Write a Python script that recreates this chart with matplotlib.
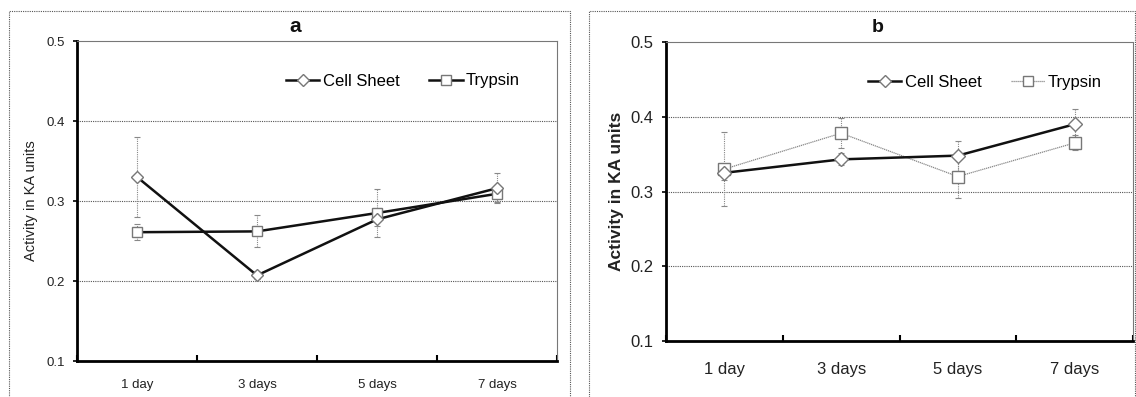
import matplotlib
matplotlib.use("Agg")
import matplotlib.pyplot as plt
from matplotlib.lines import Line2D
from matplotlib.patches import Rectangle

plt.rcParams['font.family'] = ['Liberation Sans', 'DejaVu Sans']

categories = ["1 day", "3 days", "5 days", "7 days"]

# Panel a
a_cell = [0.330, 0.207, 0.277, 0.316]
a_cell_err = [0.050, 0.005, 0.008, 0.019]
a_tryp = [0.261, 0.262, 0.285, 0.309]
a_tryp_err = [0.010, 0.020, 0.030, 0.010]

# Panel b
b_cell = [0.325, 0.343, 0.348, 0.390]
b_cell_err = [0.010, 0.008, 0.020, 0.020]
b_tryp = [0.330, 0.378, 0.320, 0.365]
b_tryp_err = [0.050, 0.020, 0.029, 0.010]

y_ticks = [0.1, 0.2, 0.3, 0.4, 0.5]

W, H = 1136, 397
fig = plt.figure(figsize=(W / 100, H / 100), dpi=100)

# outer dotted frames
for (x0, x1) in [(9, 570), (589, 1135)]:
    fig.patches.append(Rectangle((x0 / W, -0.05), (x1 - x0) / W, 1.05 - 11 / H,
                                 transform=fig.transFigure, fill=False,
                                 edgecolor='#555555', linestyle=(0, (1, 1)), linewidth=0.8))

def style_axes(ax, tick_fs, xpad, ylab_fs, ylab_weight, ylab_x):
    x = list(range(len(categories)))
    ax.set_xlim(-0.5, len(categories) - 0.5)
    ax.set_ylim(0.1, 0.5)
    ax.set_yticks(y_ticks)
    ax.set_yticklabels([f"{v:.1f}" for v in y_ticks], fontsize=tick_fs, color='#222222')
    ax.set_xticks([i - 0.5 for i in range(len(categories) + 1)])
    ax.set_xticklabels([])
    ax.set_xticks(x, minor=True)
    ax.set_xticklabels(categories, minor=True, fontsize=tick_fs, color='#222222')
    ax.tick_params(axis='x', which='minor', length=0, pad=xpad)
    ax.tick_params(axis='x', which='major', length=4, width=1.5, direction='in', color='black')
    ax.tick_params(axis='y', length=3, width=1.2, direction='out', color='black', pad=6)
    for v in [0.2, 0.3, 0.4]:
        ax.axhline(v, color='#555555', linewidth=0.8, linestyle=(0, (1, 1)), zorder=0)
    ax.spines['left'].set_linewidth(2.0)
    ax.spines['bottom'].set_linewidth(2.0)
    for s in ['top', 'right']:
        ax.spines[s].set_color('#777777')
        ax.spines[s].set_linestyle((0, (1, 1)))
        ax.spines[s].set_linewidth(0.8)
    ax.set_ylabel("Activity in KA units", fontsize=ylab_fs, fontweight=ylab_weight, color='#222222')
    ax.yaxis.set_label_coords(ylab_x, 0.5)

def plot_series(ax, y, err, marker, ms, lw, lcolor, ls, z):
    x = list(range(len(y)))
    eb = ax.errorbar(x, y, yerr=err, fmt='none', ecolor='#888888', elinewidth=0.8,
                     capsize=2.5, capthick=0.8, zorder=z - 1)
    for c in eb[2]:
        c.set_linestyle((0, (1, 1)))
    ax.plot(x, y, color=lcolor, linewidth=lw, linestyle=ls, zorder=z)
    ax.plot(x, y, linestyle='none', marker=marker, markersize=ms, markerfacecolor='white',
            markeredgecolor='#777777', markeredgewidth=1.0, zorder=z + 1)

# Panel a
axa = fig.add_axes([77 / W, 1 - 361 / H, 480 / W, 320 / H])
style_axes(axa, 9.5, 13, 10.5, 'normal', (38 - 77) / 480)
plot_series(axa, a_cell, a_cell_err, 'D', 6.5, 1.8, '#111111', '-', 5)
plot_series(axa, a_tryp, a_tryp_err, 's', 7.5, 1.8, '#111111', '-', 4)
fig.text(295 / W, 1 - 26 / H, "a", fontsize=15, fontweight='bold', ha='center', va='center',
         color='#111111')
ha = [Line2D([], [], color='#111111', lw=1.8, marker='D', ms=6, mfc='white', mec='#777777'),
      Line2D([], [], color='#111111', lw=1.8, marker='s', ms=7, mfc='white', mec='#777777')]
axa.legend(ha, ["Cell Sheet", "Trypsin"], loc='center', bbox_to_anchor=(0.679, 0.875),
           ncol=2, frameon=False, fontsize=12, handlelength=2.0, handletextpad=0.2,
           columnspacing=1.8)

# Panel b
axb = fig.add_axes([666 / W, 1 - 341 / H, 467 / W, 299 / H])
style_axes(axb, 12, 15, 12.5, 'bold', (624 - 666) / 467)
plot_series(axb, b_cell, b_cell_err, 'D', 7, 1.8, '#111111', '-', 5)
plot_series(axb, b_tryp, b_tryp_err, 's', 8, 0.9, '#888888', (0, (1, 0.6)), 4)
fig.text(878 / W, 1 - 28 / H, "b", fontsize=14, fontweight='bold', ha='center', va='center',
         color='#111111')
hb = [Line2D([], [], color='#111111', lw=1.8, marker='D', ms=6.5, mfc='white', mec='#777777'),
      Line2D([], [], color='#888888', lw=0.9, ls=(0, (1, 0.6)), marker='s', ms=7.5, mfc='white', mec='#777777')]
axb.legend(hb, ["Cell Sheet", "Trypsin"], loc='center', bbox_to_anchor=(0.683, 0.866),
           ncol=2, frameon=False, fontsize=12, handlelength=2.0, handletextpad=0.2,
           columnspacing=1.8)

fig.savefig("out.png", dpi=100)
